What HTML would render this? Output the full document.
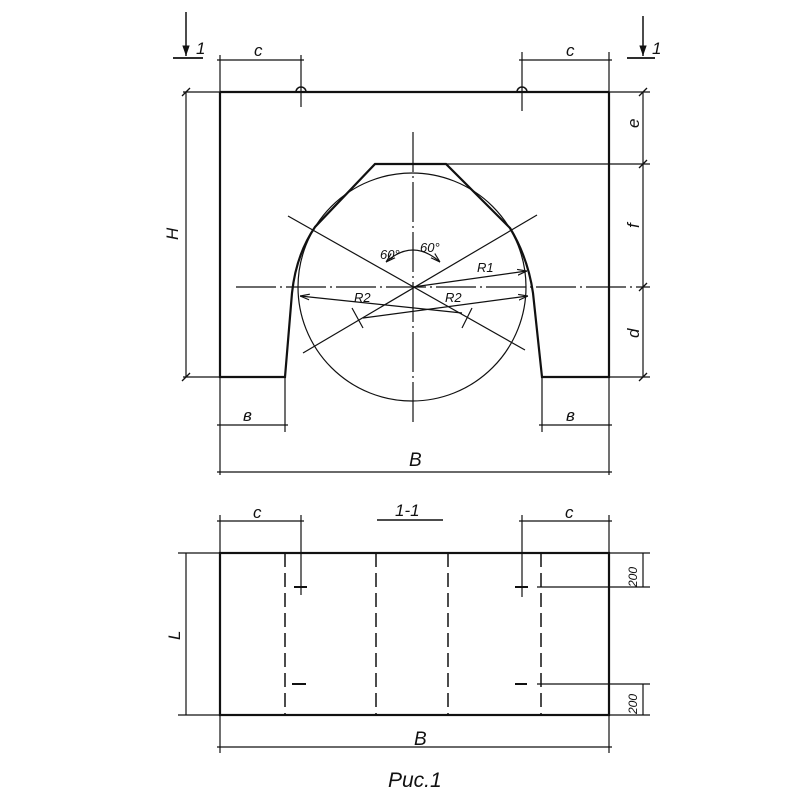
<!DOCTYPE html>
<html><head><meta charset="utf-8"><style>
html,body{margin:0;padding:0;background:#fff}
svg{display:block}
text{font-family:"Liberation Sans",sans-serif;font-style:italic;fill:#111}
</style></head><body>
<svg width="800" height="800" viewBox="0 0 800 800" xmlns="http://www.w3.org/2000/svg">
<defs>
<marker id="a" viewBox="0 0 10 10" refX="10" refY="5" markerWidth="8" markerHeight="8" orient="auto-start-reverse"><path d="M0,2 L10,5 L0,8" fill="none" stroke="#111" stroke-width="1.2"/></marker>
<marker id="b" viewBox="0 0 10 10" refX="10" refY="5" markerWidth="7" markerHeight="7" orient="auto"><path d="M0,1.5 L10,5 L0,8.5 Z" fill="#111"/></marker>
</defs>
<g stroke="#111" fill="none" stroke-width="1.2">
<line x1="186" y1="12" x2="186" y2="56" marker-end="url(#b)" stroke-width="1.5"/>
<line x1="173" y1="58" x2="203" y2="58" stroke-width="1.8"/>
<line x1="643" y1="16" x2="643" y2="56" marker-end="url(#b)" stroke-width="1.5"/>
<line x1="627" y1="58" x2="655" y2="58" stroke-width="1.8"/>
<line x1="220" y1="55" x2="220" y2="92"/><line x1="301" y1="55" x2="301" y2="107"/>
<line x1="217" y1="60" x2="304" y2="60"/>
<line x1="522" y1="52" x2="522" y2="111"/><line x1="609" y1="52" x2="609" y2="92"/>
<line x1="519" y1="60" x2="612" y2="60"/>
<line x1="183" y1="92" x2="650" y2="92"/>
<path d="M220,92 L609,92 M220,92 L220,377 L285,377 L292,293 Q296,255 315,227 L375,164 L446,164 L510,228 Q528,258 533,293 L542,377 L609,377 L609,92" stroke-width="2.2"/>
<path d="M296,92 a5,5 0 0 1 10,0 M517,92 a5,5 0 0 1 10,0" stroke-width="1.5"/>
<line x1="446" y1="164" x2="650" y2="164"/>
<line x1="183" y1="377" x2="220" y2="377"/><line x1="609" y1="377" x2="650" y2="377"/>
<line x1="186" y1="92" x2="186" y2="377"/>
<line x1="643" y1="92" x2="643" y2="377"/>
<g stroke-width="1.3"><line x1="639" y1="96" x2="647" y2="88"/><line x1="639" y1="168" x2="647" y2="160"/><line x1="639" y1="291" x2="647" y2="283"/><line x1="639" y1="381" x2="647" y2="373"/>
<line x1="182" y1="96" x2="190" y2="88"/><line x1="182" y1="381" x2="190" y2="373"/></g>
<circle cx="412" cy="287" r="114"/>
<line x1="413" y1="132" x2="413" y2="423" stroke-dasharray="40,4,2,4"/>
<line x1="236" y1="287" x2="650" y2="287" stroke-dasharray="40,4,2,4"/>
<line x1="288" y1="216" x2="525" y2="350"/>
<line x1="537" y1="215" x2="303" y2="353"/>
<path d="M386,262 Q413,238 440,262" marker-start="url(#a)" marker-end="url(#a)"/>
<line x1="413" y1="287" x2="527" y2="271" marker-end="url(#a)"/>
<line x1="462" y1="313" x2="300" y2="296" marker-end="url(#a)"/>
<line x1="363" y1="318" x2="528" y2="296" marker-end="url(#a)"/>
<line x1="352" y1="308" x2="363" y2="328"/><line x1="472" y1="308" x2="462" y2="328"/>
<line x1="220" y1="377" x2="220" y2="475"/><line x1="609" y1="377" x2="609" y2="475"/>
<line x1="285" y1="377" x2="285" y2="432"/><line x1="542" y1="377" x2="542" y2="432"/>
<line x1="217" y1="425" x2="288" y2="425"/><line x1="539" y1="425" x2="612" y2="425"/>
<line x1="217" y1="472" x2="612" y2="472"/>
<line x1="377" y1="520" x2="443" y2="520" stroke-width="1.6"/>
<line x1="220" y1="515" x2="220" y2="553"/><line x1="301" y1="515" x2="301" y2="595"/>
<line x1="217" y1="521" x2="304" y2="521"/>
<line x1="522" y1="515" x2="522" y2="597"/><line x1="609" y1="515" x2="609" y2="553"/>
<line x1="519" y1="521" x2="612" y2="521"/>
<line x1="178" y1="553" x2="650" y2="553"/>
<line x1="178" y1="715" x2="650" y2="715"/>
<rect x="220" y="553" width="389" height="162" stroke-width="2.2"/>
<g stroke-dasharray="14,6" stroke-width="1.5">
<line x1="285" y1="553" x2="285" y2="715"/><line x1="376" y1="553" x2="376" y2="715"/>
<line x1="448" y1="553" x2="448" y2="715"/><line x1="541" y1="553" x2="541" y2="715"/>
</g>
<g stroke-width="2"><line x1="294" y1="587" x2="307" y2="587"/><line x1="292" y1="684" x2="306" y2="684"/>
<line x1="515" y1="587" x2="528" y2="587"/><line x1="515" y1="684" x2="527" y2="684"/></g>
<line x1="537" y1="587" x2="650" y2="587"/><line x1="537" y1="684" x2="650" y2="684"/>
<line x1="643" y1="553" x2="643" y2="587"/><line x1="643" y1="684" x2="643" y2="715"/>
<line x1="186" y1="553" x2="186" y2="715"/>
<line x1="220" y1="715" x2="220" y2="753"/><line x1="609" y1="715" x2="609" y2="753"/>
<line x1="217" y1="747" x2="612" y2="747"/>
</g>
<g font-size="17">
<text x="196" y="54">1</text><text x="652" y="54">1</text>
<text x="254" y="56">c</text><text x="566" y="56">c</text>
<text x="409" y="466" font-size="19">B</text>
<text x="243" y="421">в</text><text x="566" y="421">в</text>
<text x="253" y="518">c</text><text x="565" y="518">c</text>
<text x="395" y="516">1-1</text>
<text x="414" y="745" font-size="19">B</text>
<text x="388" y="787" font-size="21">Рис.1</text>
<text x="380" y="259" font-size="13">60°</text>
<text x="420" y="252" font-size="13">60°</text>
<text x="477" y="272" font-size="13">R1</text>
<text x="354" y="302" font-size="13">R2</text>
<text x="445" y="302" font-size="13">R2</text>
<text transform="translate(178,240) rotate(-90)">H</text>
<text transform="translate(180,640) rotate(-90)">L</text>
<text transform="translate(639,128) rotate(-90)">e</text>
<text transform="translate(639,228) rotate(-90)">f</text>
<text transform="translate(639,338) rotate(-90)">d</text>
<text transform="translate(637,587) rotate(-90)" font-size="12">200</text>
<text transform="translate(637,714) rotate(-90)" font-size="12">200</text>
</g>
</svg>
</body></html>
